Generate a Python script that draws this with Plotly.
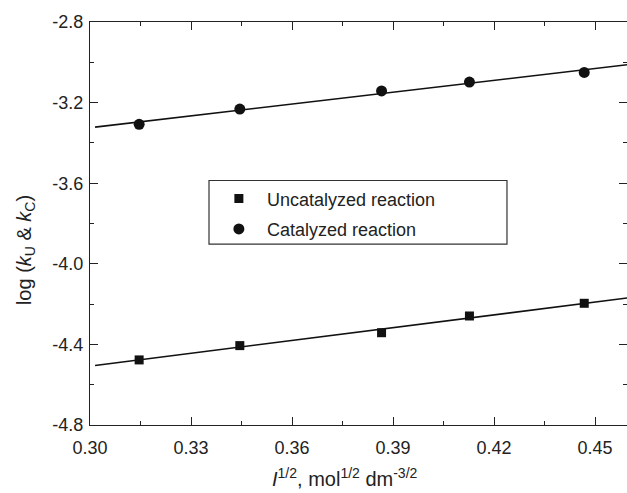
import numpy as np
import plotly.graph_objects as go

# Square root of ionic strength, mol^1/2 dm^-3/2
sqrt_I = [0.3146, 0.3445, 0.3866, 0.4127, 0.4468]

# log of rate constants
log_kU = [-4.477, -4.406, -4.342, -4.259, -4.196]   # uncatalyzed
log_kC = [-3.308, -3.232, -3.142, -3.098, -3.050]   # catalyzed

x_ticks = [0.30, 0.33, 0.36, 0.39, 0.42, 0.45]
x_ticktext = ["0.30", "0.33", "0.36", "0.39", "0.42", "0.45"]
y_ticks = [-4.8, -4.4, -4.0, -3.6, -3.2, -2.8]
y_ticktext = ["-4.8", "-4.4", "-4.0", "-3.6", "-3.2", "-2.8"]

FONT = "Liberation Sans, Arial, sans-serif"
X_RANGE = [0.30, 0.4595]
Y_RANGE = [-4.8, -2.8]

fig = go.Figure()

# least-squares lines through each series
x_fit = np.array([0.3015, 0.47])
for ys in (log_kU, log_kC):
    slope, intercept = np.polyfit(sqrt_I, ys, 1)
    fig.add_trace(go.Scatter(
        x=x_fit, y=slope * x_fit + intercept, mode="lines",
        line=dict(color="#111111", width=1.6), showlegend=False,
        hoverinfo="skip"))

fig.add_trace(go.Scatter(
    x=sqrt_I, y=log_kU, mode="markers", name="Uncatalyzed reaction",
    marker=dict(symbol="square", size=9, color="#111111"),
    legendgroup="u"))
fig.add_trace(go.Scatter(
    x=sqrt_I, y=log_kC, mode="markers", name="Catalyzed reaction",
    marker=dict(symbol="circle", size=11, color="#111111"),
    legendgroup="c"))

axis_common = dict(
    showgrid=False, zeroline=False, showline=True, linecolor="#222222",
    linewidth=1.3, mirror="ticks", ticks="inside", ticklen=8,
    tickwidth=1.2, tickcolor="#222222",
    tickfont=dict(family=FONT, size=18, color="#222222"),
)

fig.update_xaxes(
    range=X_RANGE, tickvals=x_ticks, ticktext=x_ticktext,
    ticklabelstandoff=6,
    minor=dict(ticks="inside", ticklen=4, tickwidth=1.2,
               tickcolor="#222222", dtick=0.015, tick0=0.30),
    **axis_common)
fig.update_yaxes(
    range=Y_RANGE, tickvals=y_ticks, ticktext=y_ticktext,
    ticklabelstandoff=2,
    minor=dict(ticks="inside", ticklen=4, tickwidth=1.2,
               tickcolor="#222222", dtick=0.2, tick0=-4.8),
    **axis_common)

# framed legend box
fig.add_shape(type="rect", xref="paper", yref="paper",
              x0=0.2216, x1=0.7765, y0=0.449, y1=0.6067,
              line=dict(color="#333333", width=1.2), fillcolor="white",
              layer="below")

fig.add_annotation(
    text="log (<i>k</i><sub>U</sub> &amp; <i>k</i><sub>C</sub>)",
    xref="paper", yref="paper", x=-0.121, y=0.434, textangle=-90,
    showarrow=False, xanchor="center", yanchor="middle",
    font=dict(family=FONT, size=20, color="#222222"))
fig.add_annotation(
    text="<i>I</i><sup>1/2</sup>, mol<sup>1/2</sup> dm<sup>-3/2</sup>",
    xref="paper", yref="paper", x=0.475, y=-0.1315,
    showarrow=False, xanchor="center", yanchor="middle",
    font=dict(family=FONT, size=20, color="#222222"))

fig.update_layout(
    width=627, height=493,
    margin=dict(l=90, r=0, t=22, b=68),
    paper_bgcolor="white", plot_bgcolor="white",
    legend=dict(x=0.2251, y=0.607, xanchor="left", yanchor="top",
                bgcolor="rgba(0,0,0,0)", borderwidth=0, itemwidth=46,
                font=dict(family=FONT, size=18, color="#222222"),
                traceorder="grouped", tracegroupgap=4),
)

fig.write_html("out.html")
